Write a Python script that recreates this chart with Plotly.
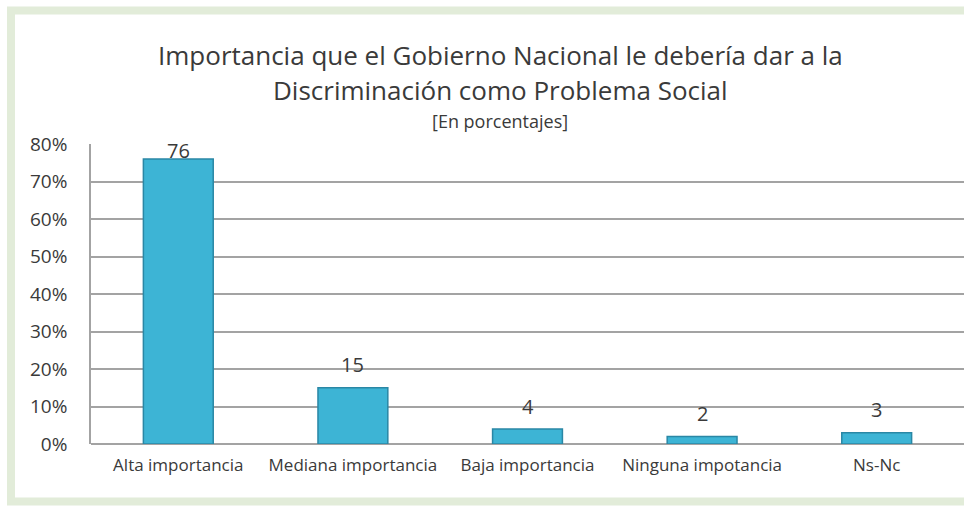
import plotly.graph_objects as go

categories = ["Alta importancia", "Mediana importancia", "Baja importancia",
              "Ninguna impotancia", "Ns-Nc"]
values = [76, 15, 4, 2, 3]
tick_vals = [0, 0.1, 0.2, 0.3, 0.4, 0.5, 0.6, 0.7, 0.8]
tick_text = ["0%", "10%", "20%", "30%", "40%", "50%", "60%", "70%", "80%"]
title_line1 = "Importancia que el Gobierno Nacional le debería dar a la"
title_line2 = "Discriminación como Problema Social"
subtitle = "[En porcentajes]"

W, H = 964, 509
ML, MR, MT, MB = 91, 0, 144, 65
PW = W - ML - MR
PH = H - MT - MB

def px_x(p):
    return (p - ML) / PW

def px_y(p):
    return (H - MB - p) / PH

FONT = "'Open Sans', sans-serif"
TXT = "#3a3a3a"
# label offset above each bar (pixels); the top bar's label sits against it
label_shift = [-7, 8, 7, 8, 8]

fig = go.Figure()
fig.add_trace(go.Bar(
    x=categories,
    y=[v / 100 for v in values],
    marker=dict(color="#3db4d5", line=dict(color="#2a87a5", width=1.5)),
    width=0.4,
    cliponaxis=False,
))

annotations = [
    dict(x=c, y=v / 100, xref="x", yref="y", text=str(v),
         showarrow=False, xanchor="center", yanchor="bottom", yshift=s,
         font=dict(size=20, color=TXT, family=FONT))
    for c, v, s in zip(categories, values, label_shift)
]
annotations += [
    dict(text=title_line1, xref="paper", yref="paper",
         x=px_x(500), y=px_y(55), xanchor="center", yanchor="middle",
         showarrow=False, font=dict(size=26, color=TXT, family=FONT)),
    dict(text=title_line2, xref="paper", yref="paper",
         x=px_x(500), y=px_y(90), xanchor="center", yanchor="middle",
         showarrow=False, font=dict(size=26, color=TXT, family=FONT)),
    dict(text=subtitle, xref="paper", yref="paper",
         x=px_x(500), y=px_y(121), xanchor="center", yanchor="middle",
         showarrow=False, font=dict(size=18, color=TXT, family=FONT)),
]

fig.update_layout(
    width=W, height=H,
    margin=dict(l=ML, r=MR, t=MT, b=MB),
    paper_bgcolor="white",
    plot_bgcolor="white",
    showlegend=False,
    font=dict(family=FONT, color=TXT),
    xaxis=dict(
        showgrid=False, showline=False, ticks="",
        tickfont=dict(size=17, color=TXT, family=FONT),
        range=[-0.5, 4.5],
        ticklabelstandoff=9,
    ),
    yaxis=dict(
        range=[0, 0.8],
        tickvals=tick_vals, ticktext=tick_text,
        tickfont=dict(size=19, color=TXT, family=FONT),
        showgrid=True, gridcolor="#a3a3a3", gridwidth=1.5,
        showline=True, linecolor="#a3a3a3", linewidth=1.5,
        zeroline=True, zerolinecolor="#a3a3a3", zerolinewidth=1.5,
        ticks="", ticklen=0,
        ticklabelstandoff=18,
    ),
    shapes=[
        dict(type="rect", xref="paper", yref="paper",
             x0=px_x(11), x1=px_x(990), y0=px_y(501.5), y1=px_y(10.5),
             line=dict(color="#e2ecd9", width=8), fillcolor="rgba(0,0,0,0)",
             layer="below"),
    ],
    annotations=annotations,
)

fig.write_html(
    "out.html",
    config={"displayModeBar": False},
    post_script="document.body.style.margin='0';document.body.style.overflow='hidden';",
)
